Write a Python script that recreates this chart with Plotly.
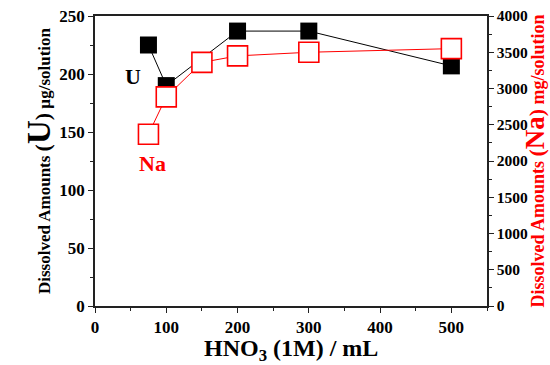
import plotly.graph_objects as go

hno3_u = [75, 100, 200, 300, 500]
u_vals = [225, 190, 237, 237, 207]
hno3_na = [75, 100, 150, 200, 300, 500]
na_vals = [2370, 2885, 3360, 3450, 3500, 3550]

FONT = "Liberation Serif"

fig = go.Figure()
fig.add_trace(go.Scatter(
    x=hno3_u, y=u_vals, mode="lines+markers",
    line=dict(color="black", width=1),
    marker=dict(symbol="square", size=17, color="black", line=dict(width=0)),
    showlegend=False, yaxis="y"))
fig.add_trace(go.Scatter(
    x=hno3_na, y=na_vals, mode="lines+markers",
    line=dict(color="red", width=1),
    marker=dict(symbol="square", size=20, color="white", line=dict(color="red", width=1.6)),
    showlegend=False, yaxis="y2"))

axis_common = dict(showgrid=False, zeroline=False, showline=True, linecolor="#222",
                   linewidth=1.5, ticks="outside", ticklen=5, tickwidth=1.2, tickcolor="#222",
                   automargin=False)

def sp(text, size):
    return f"<span style='font-size:{size}px'>{text}</span>"

left_title = "<b>" + sp("Dissolved Amounts ", 17) + sp("(", 22) + sp("U", 33) + sp(")", 22) + sp(" µg/solution", 17) + "</b>"
right_title = "<b>" + sp("Dissolved Amounts ", 18) + sp("(", 22) + sp("Na", 27) + sp(")", 22) + sp(" mg/solution", 18) + "</b>"

fig.update_layout(
    width=550, height=365,
    margin=dict(l=95, r=63, t=16, b=59),
    paper_bgcolor="white", plot_bgcolor="white",
    font=dict(family=FONT, color="black"),
    xaxis=dict(range=[0, 550], dtick=100, mirror=True,
               minor=dict(dtick=50, ticks="outside", ticklen=3, tickcolor="#222"),
               tickfont=dict(family=FONT, size=17, color="black", weight="bold"),
               **axis_common),
    yaxis=dict(range=[0, 250], dtick=50,
               minor=dict(dtick=25, ticks="outside", ticklen=3, tickcolor="#222"),
               tickfont=dict(family=FONT, size=17, color="black", weight="bold"),
               title=dict(text=left_title,
                          font=dict(family=FONT, size=17, color="black", weight="bold"), standoff=4),
               **axis_common),
    yaxis2=dict(range=[0, 4000], dtick=500, overlaying="y", side="right",
                minor=dict(dtick=250, ticks="outside", ticklen=3, tickcolor="#222"),
                tickfont=dict(family=FONT, size=15.5, color="black", weight="bold"),
                title=dict(text=right_title,
                           font=dict(family=FONT, size=18, color="red", weight="bold"), standoff=5),
                **axis_common),
)

fig.add_annotation(x=0.5, y=-0.093, xref="paper", yref="paper", xanchor="center", yanchor="top",
                   text="<b>HNO<sub>3</sub> (1M) / mL</b>", showarrow=False,
                   font=dict(family=FONT, size=24, color="black"))
fig.add_annotation(x=53, y=198, xref="x", yref="y", text="<b>U</b>", showarrow=False,
                   font=dict(family=FONT, size=22, color="black"))
fig.add_annotation(x=80, y=123, xref="x", yref="y", text="<b>Na</b>", showarrow=False,
                   font=dict(family=FONT, size=22, color="red"))

fig.write_html("out.html")
